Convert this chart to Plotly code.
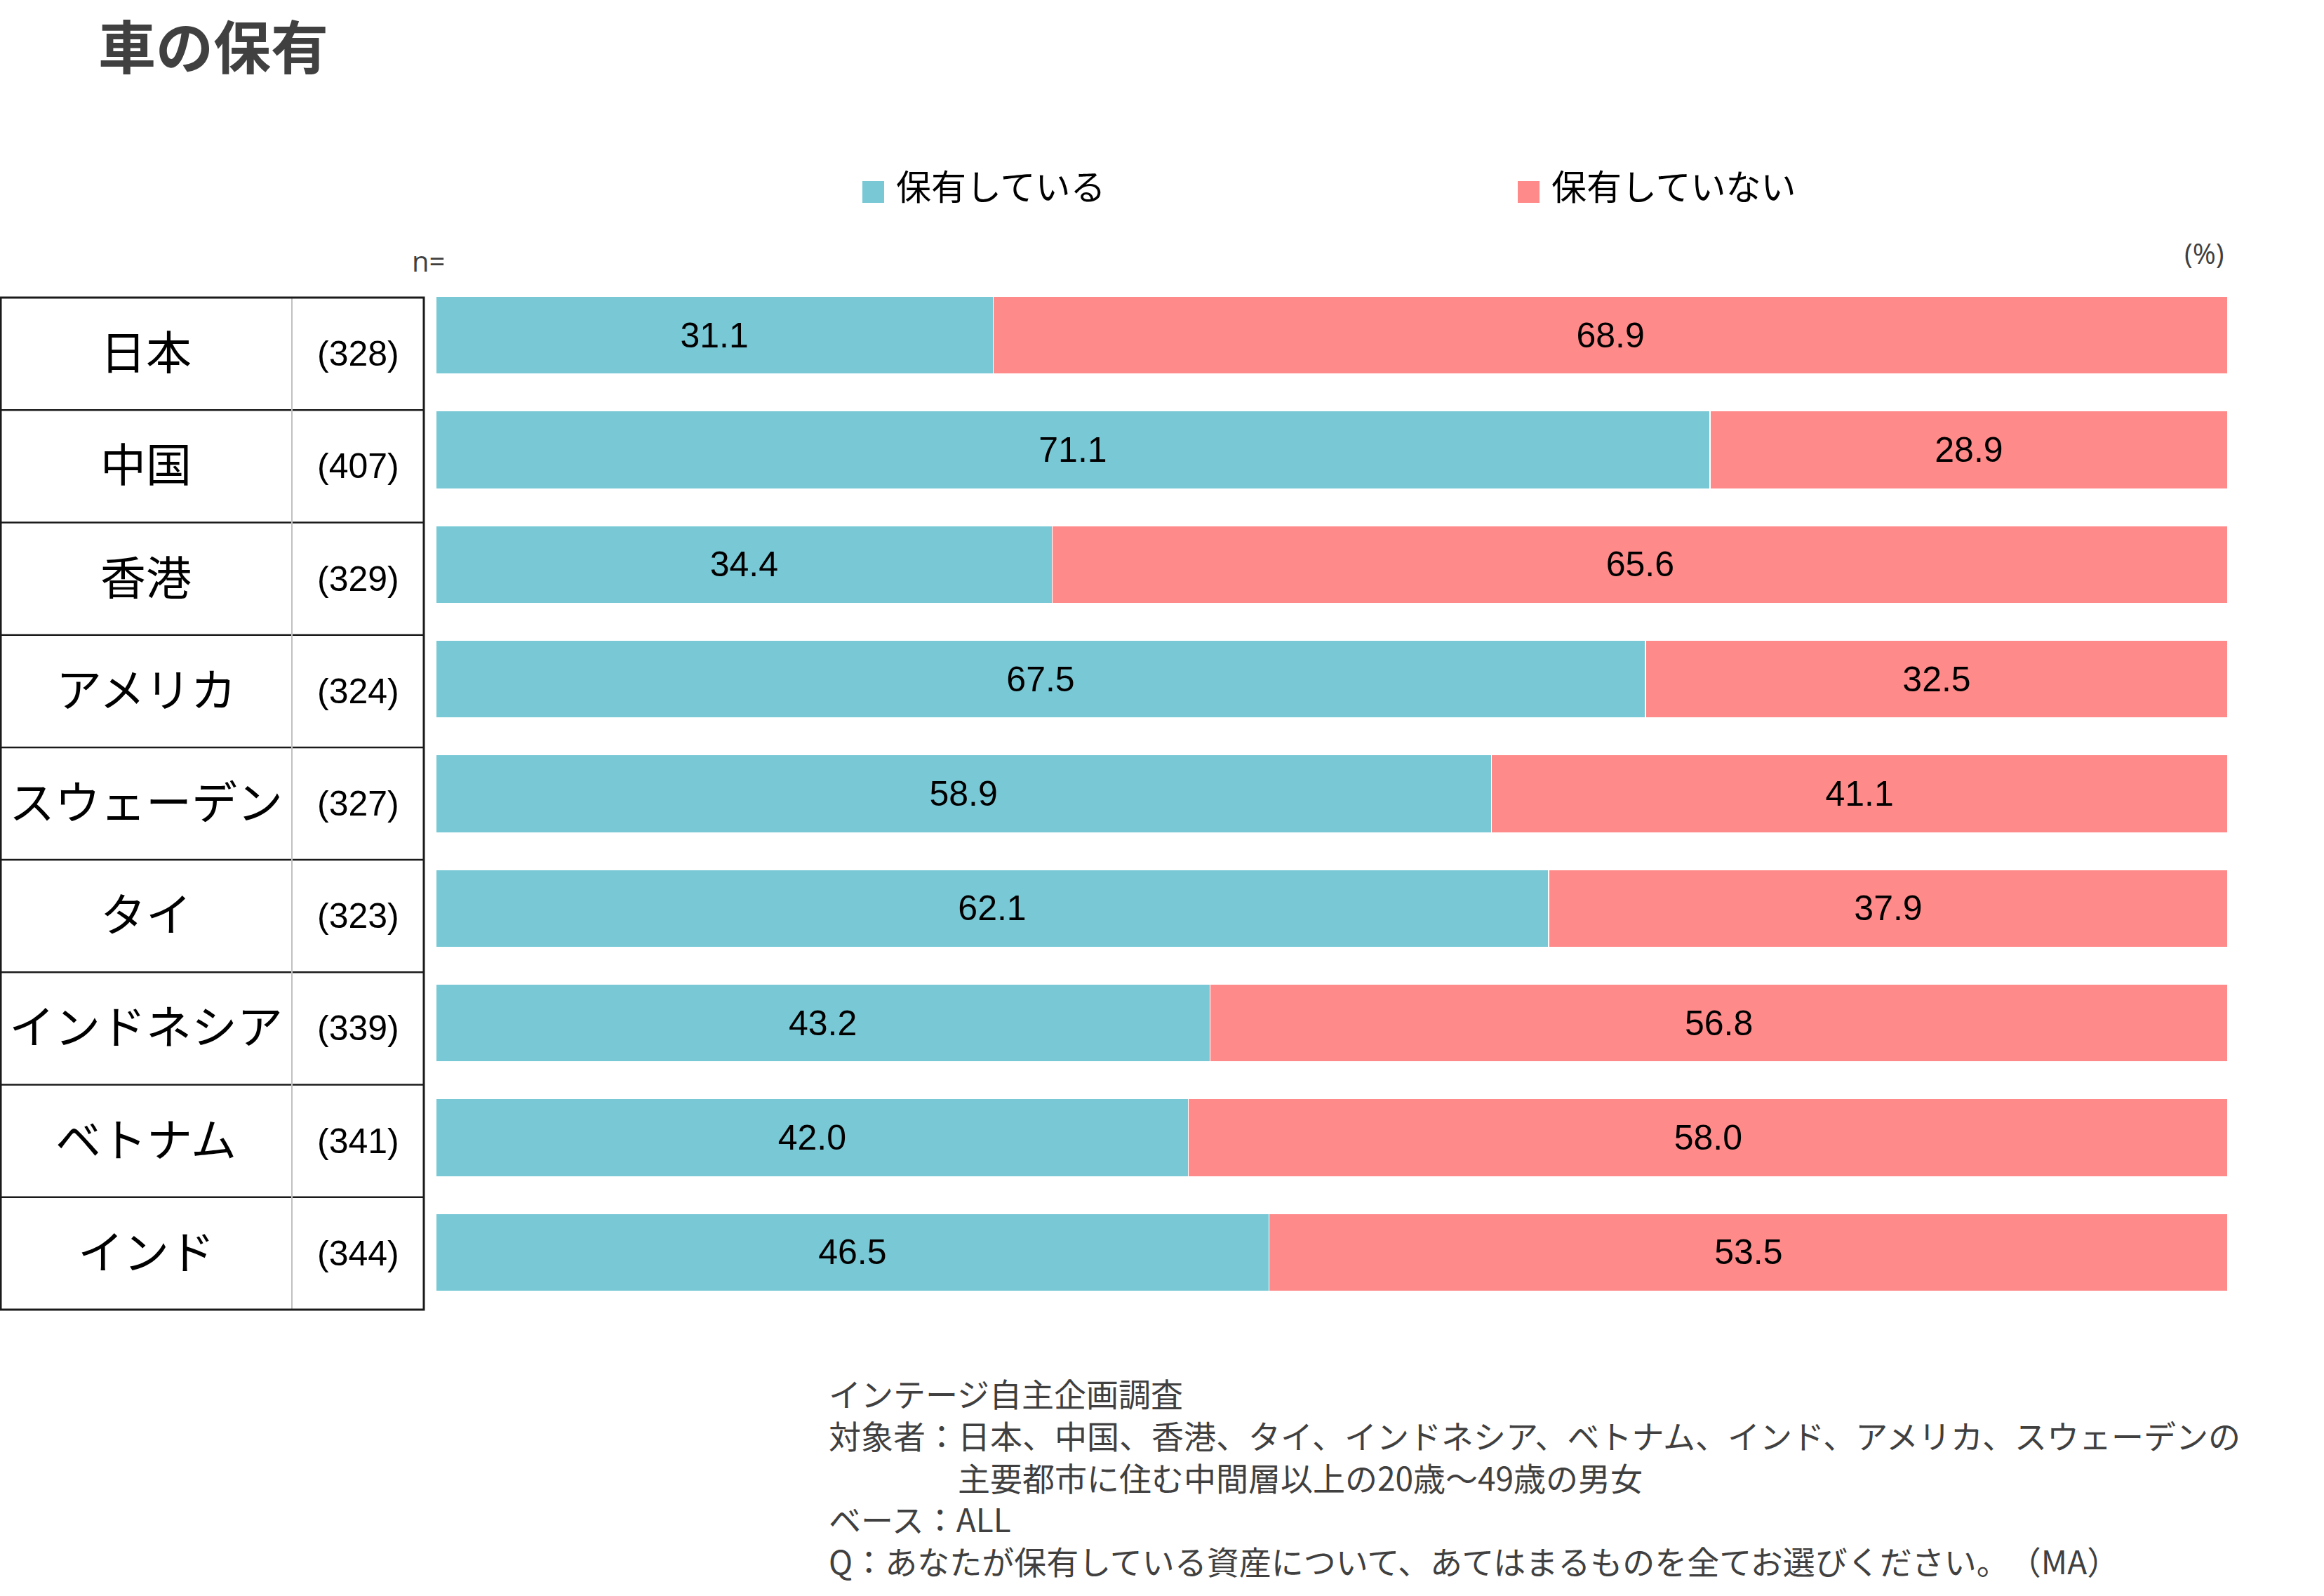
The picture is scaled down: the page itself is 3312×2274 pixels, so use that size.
import plotly.graph_objects as go

# ---------------- data ----------------
countries = ["日本", "中国", "香港", "アメリカ", "スウェーデン", "タイ", "インドネシア", "ベトナム", "インド"]
sample_n = [328, 407, 329, 324, 327, 323, 339, 341, 344]
own = [31.1, 71.1, 34.4, 67.5, 58.9, 62.1, 43.2, 42.0, 46.5]
not_own = [68.9, 28.9, 65.6, 32.5, 41.1, 37.9, 56.8, 58.0, 53.5]
series_names = ["保有している", "保有していない"]
series_colors = ["#78C8D5", "#FF8A8A"]

title_text = "車の保有"
footnote_lines = [
    "インテージ自主企画調査",
    "対象者：日本、中国、香港、タイ、インドネシア、ベトナム、インド、アメリカ、スウェーデンの",
    "　　　　主要都市に住む中間層以上の20歳～49歳の男女",
    "ベース：ALL",
    "Q：あなたが保有している資産について、あてはまるものを全てお選びください。\u200b（MA）",
]

# ---------------- layout helpers ----------------
W, H = 3312, 2274
JP = "Noto Sans CJK JP"
NUM = "Liberation Sans, Arial, sans-serif"
GREY = "#404040"


def px(x):
    return x / W


def py(y):
    return 1 - y / H


fig = go.Figure()
for name, vals, col in zip(series_names, [own, not_own], series_colors):
    fig.add_trace(go.Bar(
        y=countries, x=vals, name=name, orientation="h",
        marker=dict(color=col, line=dict(color="white", width=1.5)),
        texttemplate="%{x:.1f}", textposition="inside", insidetextanchor="middle",
        textangle=0, constraintext="none",
        textfont=dict(family=NUM, size=50, color="black"),
        showlegend=False, hoverinfo="skip",
    ))

annotations = []
shapes = []

# title
annotations.append(dict(text=f"<b>{title_text}</b>", x=px(138), y=py(62), xref="paper", yref="paper",
                        xanchor="left", yanchor="middle", showarrow=False,
                        font=dict(family=JP, size=82, color=GREY)))

# legend (manual)
leg_x = [1229, 2163]
for name, col, lx in zip(series_names, series_colors, leg_x):
    shapes.append(dict(type="rect", xref="paper", yref="paper",
                       x0=px(lx), x1=px(lx + 31), y0=py(258), y1=py(289),
                       fillcolor=col, line=dict(width=0)))
    annotations.append(dict(text=name, x=px(lx + 46), y=py(263), xref="paper", yref="paper",
                            xanchor="left", yanchor="middle", showarrow=False,
                            font=dict(family=JP, size=50, color="black")))

# n= and (%)
annotations.append(dict(text="n=", x=px(585), y=py(372), xref="paper", yref="paper",
                        xanchor="left", yanchor="middle", showarrow=False,
                        font=dict(family="Open Sans, sans-serif", size=40, color=GREY)))
annotations.append(dict(text="(%)", x=px(3172), y=py(361), xref="paper", yref="paper",
                        xanchor="right", yanchor="middle", showarrow=False,
                        font=dict(family="Open Sans, sans-serif", size=40, color=GREY)))

# table
t_top, t_bot, t_left, t_right, t_div = 424, 1866, 1, 604, 416
row_h = (t_bot - t_top) / len(countries)
for k in range(1, len(countries)):
    yk = t_top + k * row_h
    shapes.append(dict(type="line", xref="paper", yref="paper",
                       x0=px(t_left), x1=px(t_right), y0=py(yk), y1=py(yk),
                       line=dict(color="#1a1a1a", width=2.5)))
shapes.append(dict(type="line", xref="paper", yref="paper",
                   x0=px(t_div), x1=px(t_div), y0=py(t_top), y1=py(t_bot),
                   line=dict(color="#C0C0C0", width=2)))
shapes.append(dict(type="rect", xref="paper", yref="paper",
                   x0=px(t_left), x1=px(t_right), y0=py(t_top), y1=py(t_bot),
                   line=dict(color="#1a1a1a", width=3)))
for i, (c, n) in enumerate(zip(countries, sample_n)):
    yc = t_top + (i + 0.5) * row_h
    annotations.append(dict(text=c, x=px(208), y=py(yc - 6), xref="paper", yref="paper",
                            xanchor="center", yanchor="middle", showarrow=False,
                            font=dict(family=JP, size=65, color="black")))
    annotations.append(dict(text=f"({n})", x=px(511), y=py(yc), xref="paper", yref="paper",
                            xanchor="center", yanchor="middle", showarrow=False,
                            font=dict(family=NUM, size=50, color="black")))

# footnote (one block)
annotations.append(dict(text="<br>".join(footnote_lines), x=px(1179), y=py(2103),
                        xref="paper", yref="paper", xanchor="left", yanchor="middle",
                        align="left", showarrow=False,
                        font=dict(family=JP, size=46, color=GREY)))

fig.update_layout(
    width=W, height=H, margin=dict(l=0, r=0, t=0, b=0),
    paper_bgcolor="white", plot_bgcolor="white",
    barmode="stack", bargap=0.32,
    xaxis=dict(range=[0, 100], domain=[px(621), px(3175)], visible=False, fixedrange=True),
    yaxis=dict(categoryorder="array", categoryarray=countries, autorange="reversed",
               domain=[py(1866), py(396)], visible=False, fixedrange=True),
    annotations=annotations, shapes=shapes,
    showlegend=False,
)

fig.write_html("out.html")
